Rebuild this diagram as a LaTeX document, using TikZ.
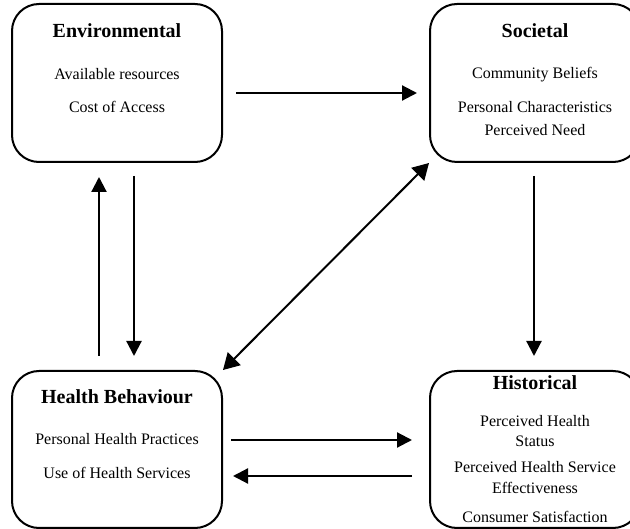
\documentclass[tikz,border=0pt]{standalone}
\usepackage{fontspec}
\setmainfont{Liberation Serif}
\usetikzlibrary{arrows.meta,positioning}
\begin{document}
\begin{tikzpicture}[x=1pt,y=-1pt]
% Styles
\tikzset{factor/.style={draw, line width=2pt, rounded corners=27pt, minimum width=210pt, minimum height=158pt, inner sep=0pt},
  heading/.style={anchor=base, font=\fontsize{20}{24}\selectfont\bfseries},
  item/.style={anchor=base, font=\fontsize{16}{19}\selectfont},
  arr/.style={line width=2.2pt, -{Triangle[length=15pt,width=15pt]}},
  twoway/.style={line width=2pt, {Triangle[length=16pt,width=18pt]}-{Triangle[length=16pt,width=18pt]}}}
\clip (0,0) rectangle (630,529);
% the four boxes
\node[factor] (env) at (117,83) {};
\node[factor] (soc) at (535,83) {};
\node[factor, minimum height=157pt] (hb) at (117,449.5) {};
\node[factor, minimum height=157pt] (hist) at (535,449.5) {};
% the headings
\node[heading] (envhead) at (117,38) {Environmental};
\node[heading] (sochead) at (535,38) {Societal};
\node[heading] (hbhead) at (117,404) {Health Behaviour};
\node[heading] (histhead) at (535,390) {Historical};
% the items
\foreach \t/\y [count=\i] in {Available resources/80, Cost of Access/113} {
\node[item] (env\i) at (117,\y) {\t};
}
\foreach \t/\y [count=\i] in {Community Beliefs/79, Personal Characteristics/113, Perceived Need/136} {
\node[item] (soc\i) at (535,\y) {\t};
}
\foreach \t/\y [count=\i] in {Personal Health Practices/445, Use of Health Services/479} {
\node[item] (hb\i) at (117,\y) {\t};
}
\foreach \t/\y [count=\i] in {Perceived Health/427, Status/447, Perceived Health Service/473, Effectiveness/494, Consumer Satisfaction/522} {
\node[item] (hist\i) at (535,\y) {\t};
}
% the arrows
\draw[arr, shorten <=13pt, shorten >=12pt] ([yshift=-10pt]env.east) -- ([yshift=-10pt]soc.west);
\draw[arr, shorten <=14pt, shorten >=14pt] ([xshift=-18pt]hb.north) -- ([xshift=-18pt]env.south);
\draw[arr, shorten <=13pt, shorten >=14pt] ([xshift=17pt]env.south) -- ([xshift=17pt]hb.north);
\draw[arr, shorten <=13pt, shorten >=14pt] ([xshift=-1pt]soc.south) -- ([xshift=-1pt]hist.south |- hist.north);
\draw[twoway] (hb.north east) -- (soc.south west);
\draw[arr, shorten <=8pt, shorten >=17pt] ([yshift=9.5pt]hb.east) -- ([yshift=9.5pt]hist.west);
\draw[arr, shorten <=17pt, shorten >=10pt] ([yshift=-26.5pt]hist.west) -- ([yshift=-26.5pt]hb.east);
\end{tikzpicture}
\end{document}
